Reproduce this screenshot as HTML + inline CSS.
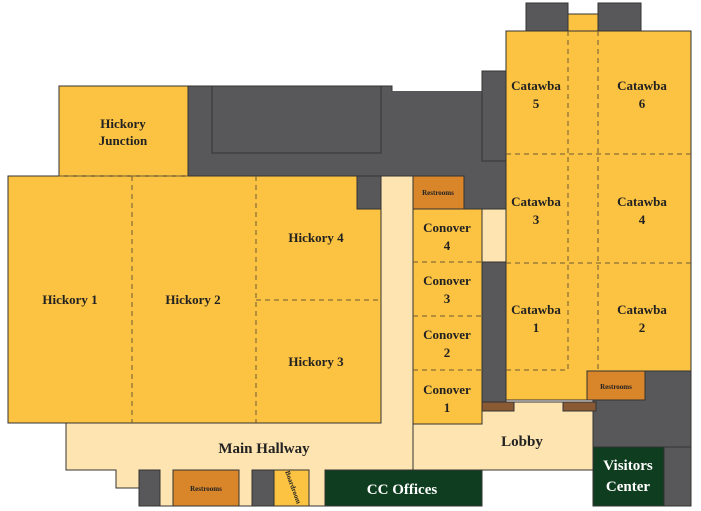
<!DOCTYPE html>
<html><head><meta charset="utf-8"><style>
html,body{margin:0;padding:0;background:#fff;}
svg{display:block;}
text{font-family:"Liberation Serif",serif;font-weight:bold;fill:#222;text-anchor:middle;}
</style></head><body>
<svg width="701" height="511" viewBox="0 0 701 511" xmlns="http://www.w3.org/2000/svg">
<g stroke="#333" stroke-width="1">
<rect x="188" y="86" width="204" height="90" fill="#58585a"/>
<rect x="212" y="86" width="169" height="67" fill="#58585a"/>
<rect x="390" y="91" width="116" height="118" fill="#58585a" stroke="none"/>
<rect x="482" y="71" width="24" height="90" fill="#58585a"/>
<rect x="357" y="176" width="30" height="33" fill="#58585a"/>
<rect x="526" y="3" width="42" height="28" fill="#58585a"/>
<rect x="598" y="3" width="43" height="28" fill="#58585a"/>
<rect x="482" y="262" width="24" height="140" fill="#58585a"/>
<rect x="593" y="371" width="98" height="76" fill="#58585a"/>
<rect x="593" y="447" width="98" height="59" fill="#58585a"/>
<polygon points="381,176 413,176 413,402 593,402 593,470 482,470 482,506 160,506 160,488 116,488 116,470 66,470 66,423 381,423" fill="#fee4b0"/>
<line x1="413" y1="423" x2="413" y2="470"/>
<rect x="482" y="209" width="24" height="53" fill="#fee4b0"/>
<rect x="59" y="86" width="129" height="90" fill="#fcc241"/>
<polygon points="8,176 357,176 357,209 381,209 381,423 8,423" fill="#fcc241"/>
<rect x="413" y="209" width="69" height="215" fill="#fcc241"/>
<rect x="413" y="176" width="51" height="33" fill="#d9862a"/>
<rect x="568" y="14" width="30" height="20" fill="#fcc241"/>
<polygon points="506,31 691,31 691,371 587,371 587,400 506,400" fill="#fcc241"/>
<rect x="587" y="371" width="58" height="29" fill="#d9862a"/>
<rect x="482" y="402" width="32" height="9" fill="#8a5a35"/>
<rect x="563" y="402" width="33" height="9" fill="#8a5a35"/>
<rect x="139" y="470" width="21" height="36" fill="#58585a"/>
<rect x="173" y="470" width="66" height="36" fill="#d9862a"/>
<rect x="252" y="470" width="22" height="36" fill="#58585a"/>
<rect x="274" y="470" width="35" height="36" fill="#fcc241"/>
<rect x="325" y="470" width="157" height="36" fill="#0f3d1f"/>
<rect x="593" y="447" width="71" height="59" fill="#0f3d1f"/>
</g>
<g stroke="#6b5a35" stroke-width="1" stroke-dasharray="5,4" fill="none">
<line x1="59" y1="176" x2="188" y2="176"/>
<line x1="132" y1="176" x2="132" y2="423"/>
<line x1="256" y1="176" x2="256" y2="423"/>
<line x1="256" y1="300" x2="381" y2="300"/>
<line x1="413" y1="262" x2="482" y2="262"/>
<line x1="413" y1="316" x2="482" y2="316"/>
<line x1="413" y1="370" x2="482" y2="370"/>
<line x1="568" y1="31" x2="568" y2="370"/>
<line x1="598" y1="31" x2="598" y2="371"/>
<line x1="506" y1="154" x2="691" y2="154"/>
<line x1="506" y1="263" x2="691" y2="263"/>
<line x1="506" y1="370" x2="568" y2="370"/>
</g>
<g font-size="13">
<text x="123" y="128">Hickory</text><text x="123" y="145">Junction</text>
<text x="70" y="304">Hickory 1</text>
<text x="193" y="304">Hickory 2</text>
<text x="316" y="242">Hickory 4</text>
<text x="316" y="366">Hickory 3</text>
<text x="536" y="90">Catawba</text><text x="536" y="108">5</text>
<text x="642" y="90">Catawba</text><text x="642" y="108">6</text>
<text x="536" y="206">Catawba</text><text x="536" y="224">3</text>
<text x="642" y="206">Catawba</text><text x="642" y="224">4</text>
<text x="536" y="314">Catawba</text><text x="536" y="332">1</text>
<text x="642" y="314">Catawba</text><text x="642" y="332">2</text>
<text x="447" y="232">Conover</text><text x="447" y="250">4</text>
<text x="447" y="285">Conover</text><text x="447" y="303">3</text>
<text x="447" y="339">Conover</text><text x="447" y="357">2</text>
<text x="447" y="394">Conover</text><text x="447" y="412">1</text>
<text x="264" y="453" font-size="15">Main Hallway</text>
<text x="522" y="446" font-size="15">Lobby</text>
<text x="402" y="494" font-size="15" style="fill:#fff">CC Offices</text>
<text x="628" y="470" font-size="15" style="fill:#fff">Visitors</text>
<text x="628" y="491" font-size="15" style="fill:#fff">Center</text>
<text x="438" y="195" font-size="7">Restrooms</text>
<text x="616" y="389" font-size="7">Restrooms</text>
<text x="206" y="491" font-size="7">Restrooms</text>
<text x="0" y="0" font-size="7" transform="translate(291,488) rotate(70)">Boardroom</text>
</g>
</svg>
</body></html>
